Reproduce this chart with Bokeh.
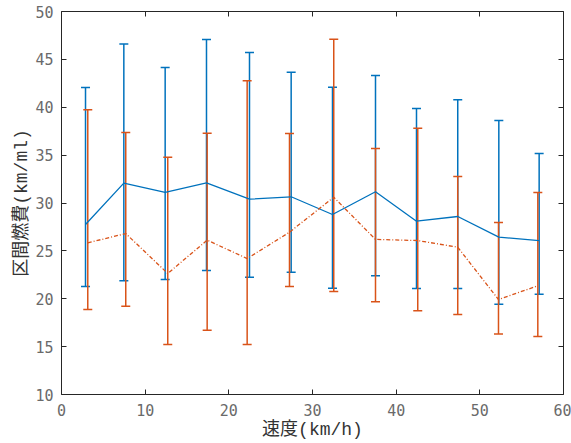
from bokeh.plotting import figure
from bokeh.models import ColumnDataSource, Whisker, TeeHead, LinearAxis, Range1d, FixedTicker
from bokeh.embed import file_html
from bokeh.resources import INLINE

# Series 1 (blue, solid)
blue_x = [2.87, 7.45, 12.39, 17.33, 22.47, 27.45, 32.39, 37.53, 42.43, 47.36, 52.27, 57.09]
blue_mean = [27.75, 32.07, 31.10, 32.10, 30.40, 30.65, 28.80, 31.17, 28.10, 28.59, 26.43, 26.08]
blue_upper = [42.06, 46.60, 44.15, 47.08, 45.72, 43.66, 42.10, 43.32, 39.87, 40.78, 38.62, 35.17]
blue_lower = [21.28, 21.87, 22.01, 22.95, 22.25, 22.77, 21.10, 22.40, 21.07, 21.07, 19.43, 20.47]

# Series 2 (orange, dashed)
orange_x = [3.14, 7.68, 12.70, 17.41, 22.19, 27.25, 32.54, 37.53, 42.58, 47.36, 52.23, 56.93]
orange_mean = [25.84, 26.81, 22.64, 26.12, 24.20, 26.95, 30.60, 26.20, 26.08, 25.38, 19.92, 21.35]
orange_upper = [39.73, 37.36, 34.79, 37.29, 42.76, 37.26, 47.10, 35.69, 37.81, 32.77, 27.96, 31.10]
orange_lower = [18.88, 19.22, 15.22, 16.72, 15.22, 21.28, 20.76, 19.68, 18.74, 18.36, 16.33, 16.06]

x_ticks = [0, 10, 20, 30, 40, 50, 60]
y_ticks = [10, 15, 20, 25, 30, 35, 40, 45, 50]
x_label = "速度(km/h)"
y_label = "区間燃費(km/ml)"

BLUE = "#0072BD"
ORANGE = "#D95319"
AXC = "#262626"
TICK_FONT = "DejaVu Sans Mono"
LABEL_FONT = "'Liberation Mono', 'Noto Sans CJK JP'"

p = figure(width=571, height=443, output_backend="svg", toolbar_location=None,
           x_range=Range1d(0, 60), y_range=Range1d(10, 50),
           min_border_left=61, min_border_right=8, min_border_top=11, min_border_bottom=49)
p.grid.visible = False
p.outline_line_color = None
p.background_fill_color = "white"
p.border_fill_color = "white"

def style_axis(ax, labels=True):
    ax.axis_line_color = AXC
    ax.axis_line_width = 1
    ax.major_tick_line_color = AXC
    ax.major_tick_in = 5
    ax.major_tick_out = 0
    ax.minor_tick_line_color = None
    ax.major_label_text_font = TICK_FONT
    ax.major_label_text_font_size = "15px"
    ax.major_label_text_color = "#6a6a6a"
    if not labels:
        ax.major_label_text_font_size = "0px"
        ax.major_label_text_color = None

style_axis(p.xaxis[0])
style_axis(p.yaxis[0])
p.xaxis[0].ticker = FixedTicker(ticks=x_ticks)
p.yaxis[0].ticker = FixedTicker(ticks=y_ticks)
p.xaxis[0].major_label_standoff = 9
p.yaxis[0].major_label_standoff = 8
p.xaxis[0].axis_label = x_label
p.yaxis[0].axis_label = y_label
for ax in (p.xaxis[0], p.yaxis[0]):
    ax.axis_label_text_font = LABEL_FONT
    ax.axis_label_text_font_size = "18px"
    ax.axis_label_text_font_style = "normal"
    ax.axis_label_text_color = "#333333"
p.xaxis[0].axis_label_standoff = 1
p.yaxis[0].axis_label_standoff = 0

top_ax = LinearAxis(ticker=FixedTicker(ticks=x_ticks))
right_ax = LinearAxis(ticker=FixedTicker(ticks=y_ticks))
style_axis(top_ax, labels=False)
style_axis(right_ax, labels=False)
p.add_layout(top_ax, "above")
p.add_layout(right_ax, "right")

bsrc = ColumnDataSource(dict(x=blue_x, m=blue_mean, up=blue_upper, lo=blue_lower))
osrc = ColumnDataSource(dict(x=orange_x, m=orange_mean, up=orange_upper, lo=orange_lower))

for src, col, dash in ((bsrc, BLUE, "solid"), (osrc, ORANGE, "4 2 1 2")):
    w = Whisker(source=src, base="x", upper="up", lower="lo", dimension="height",
                line_color=col, line_width=1.5,
                upper_head=TeeHead(size=9, line_color=col, line_width=1.5),
                lower_head=TeeHead(size=9, line_color=col, line_width=1.5))
    p.add_layout(w)
    p.line("x", "m", source=src, line_color=col, line_width=1.3, line_dash=dash)

open("out.html", "w").write(file_html(p, INLINE))
